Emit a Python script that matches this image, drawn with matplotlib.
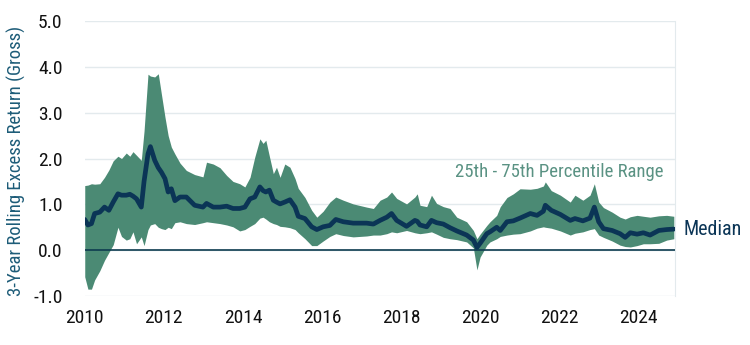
import numpy as np
import matplotlib.pyplot as plt

plt.rcParams['font.family'] = ['Roboto Condensed', 'Archivo Narrow', 'Liberation Sans Narrow', 'Roboto', 'DejaVu Sans']

# dates (decimal years) and 25th / median / 75th percentile values
dates = [2010.00, 2010.08, 2010.17, 2010.25, 2010.38, 2010.50, 2010.61, 2010.72, 2010.84, 2010.93,
         2011.05, 2011.14, 2011.22, 2011.31, 2011.43, 2011.50, 2011.60, 2011.66, 2011.77, 2011.86,
         2011.94, 2012.03, 2012.11, 2012.19, 2012.28, 2012.41, 2012.57, 2012.78, 2012.99, 2013.08,
         2013.25, 2013.42, 2013.59, 2013.75, 2013.92, 2014.05, 2014.18, 2014.30, 2014.43, 2014.51,
         2014.58, 2014.67, 2014.77, 2014.85, 2014.94, 2015.06, 2015.19, 2015.32, 2015.40, 2015.57,
         2015.74, 2015.87, 2016.03, 2016.20, 2016.35, 2016.54, 2016.79, 2017.13, 2017.30, 2017.47,
         2017.64, 2017.76, 2017.89, 2018.14, 2018.35, 2018.41, 2018.48, 2018.65, 2018.77, 2018.90,
         2019.07, 2019.24, 2019.41, 2019.66, 2019.83, 2019.92, 2020.00, 2020.17, 2020.25, 2020.42,
         2020.51, 2020.68, 2020.84, 2021.01, 2021.27, 2021.44, 2021.60, 2021.65, 2021.80, 2022.03,
         2022.28, 2022.40, 2022.60, 2022.78, 2022.89, 2023.00, 2023.12, 2023.34, 2023.54, 2023.67,
         2023.80, 2023.97, 2024.13, 2024.30, 2024.52, 2024.72, 2024.90]

upper = [1.41, 1.42, 1.45, 1.44, 1.45, 1.59, 1.75, 1.95, 2.05, 2.00,
         2.12, 2.05, 2.15, 2.07, 1.96, 2.60, 3.84, 3.80, 3.78, 3.85,
         3.40, 2.90, 2.50, 2.25, 2.10, 1.90, 1.74, 1.65, 1.60, 1.92,
         1.88, 1.80, 1.63, 1.50, 1.45, 1.38, 1.59, 2.03, 2.43, 2.33,
         2.40, 2.05, 1.67, 1.81, 1.59, 1.88, 1.81, 1.56, 1.35, 1.15,
         0.87, 0.72, 0.85, 1.05, 1.16, 1.09, 1.01, 0.94, 0.91, 1.09,
         1.16, 1.27, 1.13, 1.01, 1.16, 1.23, 0.98, 0.95, 1.20, 1.02,
         0.95, 0.91, 0.72, 0.62, 0.43, 0.25, 0.35, 0.54, 0.62, 0.76,
         0.95, 1.15, 1.23, 1.34, 1.33, 1.35, 1.40, 1.49, 1.30, 1.20,
         1.05, 1.20, 1.09, 1.20, 1.45, 1.05, 0.93, 0.83, 0.72, 0.68,
         0.73, 0.76, 0.74, 0.72, 0.75, 0.76, 0.74]

median = [0.67, 0.55, 0.58, 0.80, 0.83, 0.94, 0.87, 1.05, 1.23, 1.20,
          1.20, 1.22, 1.18, 1.12, 0.94, 1.50, 2.10, 2.26, 1.96, 1.80,
          1.70, 1.56, 1.27, 1.34, 1.08, 1.16, 1.16, 0.98, 0.94, 1.02,
          0.94, 0.94, 0.96, 0.91, 0.91, 0.94, 1.12, 1.16, 1.38, 1.30,
          1.27, 1.31, 1.09, 1.05, 1.01, 1.05, 1.10, 0.94, 0.74, 0.69,
          0.51, 0.45, 0.51, 0.54, 0.67, 0.62, 0.59, 0.59, 0.57, 0.65,
          0.72, 0.80, 0.65, 0.52, 0.65, 0.63, 0.55, 0.51, 0.65, 0.60,
          0.57, 0.49, 0.42, 0.33, 0.22, 0.06, 0.15, 0.36, 0.40, 0.50,
          0.43, 0.62, 0.64, 0.70, 0.80, 0.76, 0.85, 0.98, 0.87, 0.78,
          0.65, 0.69, 0.64, 0.70, 0.94, 0.62, 0.47, 0.43, 0.36, 0.28,
          0.38, 0.35, 0.38, 0.33, 0.43, 0.45, 0.46]

lower = [-0.58, -0.85, -0.85, -0.65, -0.45, -0.22, -0.05, 0.12, 0.50, 0.30,
         0.22, 0.25, 0.40, 0.14, 0.29, 0.10, 0.45, 0.55, 0.58, 0.50,
         0.47, 0.45, 0.50, 0.47, 0.60, 0.62, 0.58, 0.56, 0.60, 0.62,
         0.60, 0.58, 0.55, 0.51, 0.42, 0.45, 0.52, 0.58, 0.70, 0.72,
         0.68, 0.62, 0.58, 0.56, 0.52, 0.51, 0.49, 0.45, 0.38, 0.25,
         0.10, 0.10, 0.20, 0.30, 0.36, 0.32, 0.29, 0.31, 0.33, 0.33,
         0.36, 0.40, 0.38, 0.43, 0.38, 0.37, 0.36, 0.38, 0.40, 0.35,
         0.28, 0.25, 0.23, 0.18, 0.05, -0.43, -0.15, 0.11, 0.18, 0.25,
         0.30, 0.33, 0.35, 0.36, 0.42, 0.48, 0.51, 0.50, 0.48, 0.42,
         0.33, 0.37, 0.40, 0.45, 0.47, 0.33, 0.28, 0.20, 0.11, 0.08,
         0.07, 0.10, 0.14, 0.14, 0.15, 0.22, 0.25]

year_ticks = [2010, 2012, 2014, 2016, 2018, 2020, 2022, 2024]
value_ticks = [-1.0, 0.0, 1.0, 2.0, 3.0, 4.0, 5.0]

band_color = "#4b8a74"
median_color = "#0b3556"

fig = plt.figure(figsize=(7.5, 3.45), dpi=100)
ax = fig.add_axes([0.113, 0.142, 0.787, 0.797])

ax.fill_between(dates, lower, upper, color=band_color, linewidth=0, zorder=2)
ax.axhline(0, color="#0d3b4f", linewidth=1.2, zorder=3)
ax.plot(dates, median, color=median_color, linewidth=3.4, solid_capstyle="round",
        solid_joinstyle="round", zorder=4)

ax.set_xlim(2010, 2024.93)
ax.set_ylim(-1.0, 5.0)
ax.set_xticks(year_ticks)
ax.set_xticklabels([str(y) for y in year_ticks])
ax.set_yticks(value_ticks)
ax.set_yticklabels(["%.1f" % v for v in value_ticks])
ax.grid(axis="y", color="#e3eaed", linewidth=1.0, zorder=0)
ax.set_axisbelow(True)
for side in ["top", "left", "bottom"]:
    ax.spines[side].set_visible(False)
ax.spines["right"].set_color("#e3eaed")
ax.tick_params(length=0, labelsize=14, colors="#111111")
ax.tick_params(axis="x", pad=9)
ax.tick_params(axis="y", pad=16)

ax.set_ylabel("3-Year Rolling Excess Return (Gross)", fontsize=13.5, color="#1d5c78")
ax.yaxis.set_label_coords(-0.099, 0.49)

ax.text(2024.65, 1.71, "25th - 75th Percentile Range", fontsize=13.5, color="#5a9283",
        ha="right", va="center")
ax.text(2025.15, 0.46, "Median", fontsize=14.5, color=median_color, ha="left", va="center",
        clip_on=False)

plt.savefig("out.png", dpi=100)
